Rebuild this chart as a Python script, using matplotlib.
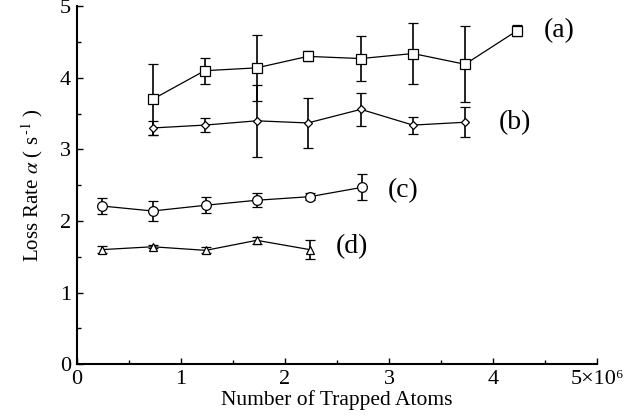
import matplotlib
matplotlib.use("Agg")
import matplotlib.pyplot as plt
import numpy as np

plt.rcParams["font.family"] = ["Liberation Serif", "DejaVu Serif"]
plt.rcParams["mathtext.fontset"] = "stix"

# atoms in units of 1e6, loss rate in 1/s
x_a = [0.73, 1.23, 1.73, 2.22, 2.73, 3.23, 3.73, 4.23]
y_a = [3.70, 4.10, 4.14, 4.30, 4.27, 4.34, 4.19, 4.66]
e_a = [0.50, 0.18, 0.46, 0.07, 0.31, 0.42, 0.53, 0.08]

x_b = [0.73, 1.23, 1.73, 2.22, 2.73, 3.23, 3.73]
y_b = [3.30, 3.34, 3.40, 3.37, 3.56, 3.34, 3.38]
e_b = [0.10, 0.10, 0.50, 0.35, 0.23, 0.12, 0.21]

x_c = [0.24, 0.73, 1.24, 1.73, 2.24, 2.74]
y_c = [2.21, 2.14, 2.22, 2.29, 2.34, 2.47]
e_c = [0.11, 0.14, 0.11, 0.10, 0.05, 0.18]

x_d = [0.24, 0.73, 1.24, 1.73, 2.24]
y_d = [1.60, 1.64, 1.59, 1.73, 1.60]
e_d = [0.05, 0.02, 0.04, 0.05, 0.13]

labels = ["(a)", "(b)", "(c)", "(d)"]
label_pos = [(4.49, 4.66), (4.05, 3.38), (2.99, 2.42), (2.49, 1.64)]

x_ticks = [0, 1, 2, 3, 4, 5]
x_ticklabels = ["0", "1", "2", "3", "4", "5×10⁶"]
y_ticks = [0, 1, 2, 3, 4, 5]


def main():
    fig = plt.figure(figsize=(6.43, 4.2), dpi=100)
    ax = fig.add_axes([0.119, 0.133, 0.81, 0.852])

    series = [
        (x_a, y_a, e_a, "s", 6.5),
        (x_b, y_b, e_b, "D", 4.5),
        (x_c, y_c, e_c, "o", 7),
        (x_d, y_d, e_d, "^", 6),
    ]
    for xs, ys, es, m, ms in series:
        ax.errorbar(xs, ys, yerr=es, color="black", lw=0.9, marker=m,
                    markersize=ms, markerfacecolor="white",
                    markeredgecolor="black", markeredgewidth=0.9,
                    capsize=3.5, capthick=1.2, elinewidth=1.2)

    for lab, (lx, ly) in zip(labels, label_pos):
        ax.text(lx, ly, lab, fontsize=20, va="center", ha="left")

    ax.set_xlim(0, 5)
    ax.set_ylim(0, 5)
    ax.set_xticks(x_ticks, x_ticklabels)
    ax.set_yticks(y_ticks)
    ax.set_xticks(np.arange(0.5, 5, 1), minor=True)
    ax.set_yticks(np.arange(0.5, 5, 1), minor=True)
    ax.tick_params(direction="in", length=4, width=1, labelsize=16, pad=4)
    ax.tick_params(which="minor", direction="in", length=3, width=1)

    for s in ["top", "right"]:
        ax.spines[s].set_visible(False)
    for s in ["left", "bottom"]:
        ax.spines[s].set_linewidth(1.5)

    ax.set_xlabel("Number of Trapped Atoms", fontsize=15.5, labelpad=1)
    ax.set_ylabel(r"Loss Rate $\alpha$ ( s$^{\,\text{-}1}$ )", fontsize=15, labelpad=11)

    fig.savefig("out.png", dpi=100)


if __name__ == "__main__":
    main()
